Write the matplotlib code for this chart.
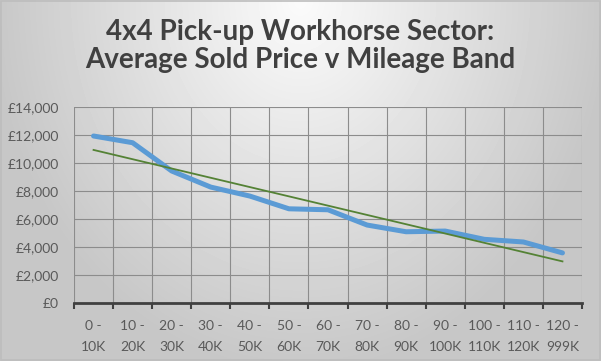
import numpy as np
import matplotlib.pyplot as plt
from matplotlib.patches import Rectangle

# Data
bands = ["0 -\n10K", "10 -\n20K", "20 -\n30K", "30 -\n40K", "40 -\n50K", "50 -\n60K",
         "60 -\n70K", "70 -\n80K", "80 -\n90K", "90 -\n100K", "100 -\n110K",
         "110 -\n120K", "120 -\n999K"]
avg_price = [11950, 11470, 9450, 8300, 7660, 6750, 6680, 5590, 5110, 5160, 4570, 4380, 3600]

x = np.arange(len(bands))
coef = np.polyfit(x, avg_price, 1)
trend = np.polyval(coef, x)

fig = plt.figure(figsize=(6.01, 3.61), dpi=100)

# gradient background
bg = fig.add_axes([0, 0, 1, 1], zorder=-10)
gx, gy = np.meshgrid(np.linspace(-1, 1, 601), np.linspace(0, 1, 361))
d = np.sqrt((gx / 0.95) ** 2 + (gy * 1.05) ** 2)
shade = np.clip(0.985 - 0.19 * d, 0.78, 1)
bg.imshow(shade, cmap="gray", vmin=0, vmax=1, aspect="auto", extent=[0, 1, 1, 0])
bg.set_xlim(0, 1)
bg.set_ylim(1, 0)
bg.axis("off")
bg.add_patch(Rectangle((0.001, 0.002), 0.997, 0.995, fill=False, edgecolor="#bdbdbd", lw=1.2))

fig.text(0.5, 0.873, "4x4 Pick-up Workhorse Sector:\nAverage Sold Price v Mileage Band",
         ha="center", va="center", fontsize=20, fontweight="bold", family="Lato",
         color="#404040", linespacing=1.08)

ax = fig.add_axes([74 / 601, 1 - 303.3 / 361, 508 / 601, 196 / 361])
ax.patch.set_alpha(0)
ax.plot(x, avg_price, color="#5B9BD5", lw=3.6, solid_capstyle="round", solid_joinstyle="round", zorder=3)
ax.plot(x, trend, color="#548235", lw=1.3, zorder=4)

ax.set_xlim(-0.5, len(bands) - 0.5)
ax.set_ylim(0, 14000)
ax.set_yticks(np.arange(0, 14001, 2000))
ax.set_yticklabels(["£{:,}".format(v) for v in range(0, 14001, 2000)])
ax.set_xticks(x)
ax.set_xticklabels(bands)
ax.set_xticks(np.arange(-0.5, len(bands)), minor=True)

ax.grid(True, which="major", axis="y", color="#8c8c8c", lw=0.8)
ax.grid(True, which="minor", axis="x", color="#8c8c8c", lw=0.8)
ax.set_axisbelow(True)

for s in ["top", "right", "left"]:
    ax.spines[s].set_visible(False)
ax.spines["bottom"].set_color("#404040")
ax.spines["bottom"].set_linewidth(2)
ax.spines["bottom"].set_zorder(5)

ax.tick_params(axis="y", length=0, pad=11, labelsize=10, labelcolor="#595959")
ax.tick_params(axis="x", which="major", length=0, pad=12, labelsize=10, labelcolor="#595959")
ax.tick_params(axis="x", which="minor", length=4, width=1.5, color="#404040", direction="out")
for lbl in ax.get_xticklabels() + ax.get_yticklabels():
    lbl.set_family("Lato")
for lbl in ax.get_xticklabels():
    lbl.set_linespacing(1.9)

fig.savefig("out.png", dpi=100)
